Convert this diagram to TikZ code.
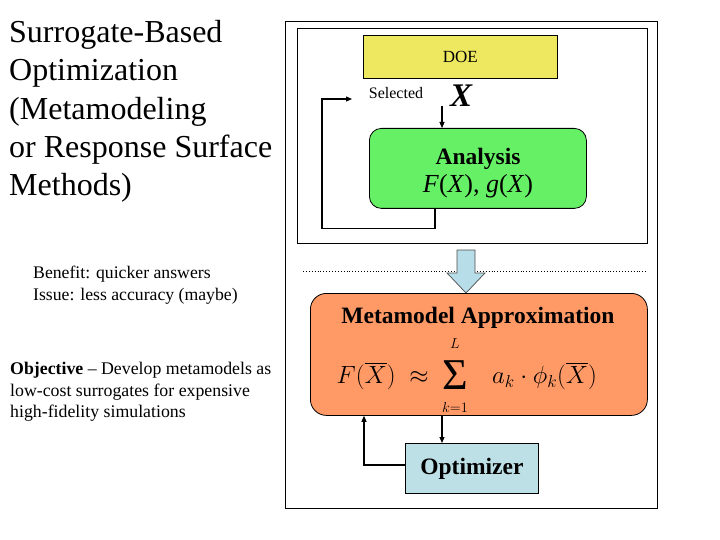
\documentclass[tikz,border=0pt]{standalone}
\usepackage{amsmath}
\usepackage{fontspec}
\setmainfont{Liberation Serif}
\usetikzlibrary{arrows.meta,calc}
\definecolor{doeyellow}{RGB}{238,232,96}
\definecolor{anagreen}{RGB}{102,240,102}
\definecolor{metaorange}{RGB}{255,153,102}
\definecolor{optblue}{RGB}{189,224,230}
\definecolor{flowblue}{RGB}{183,221,232}
\tikzset{
  frame/.style={draw, line width=1.1pt, anchor=north west, inner sep=0pt},
  box/.style={draw, line width=0.8pt, anchor=north west, inner sep=0pt},
  arr/.style={line width=1.1pt, -{Triangle[length=6pt,width=5pt]}},
  txt/.style={inner sep=0pt, align=left, anchor=north west},
  eq/.style={inner sep=0pt, font=\fontsize{26}{28}\selectfont},
  lim/.style={inner sep=0pt, font=\fontsize{14}{15}\selectfont}
}
\begin{document}
\begin{tikzpicture}[x=1pt,y=-1pt]
\useasboundingbox (0,0) rectangle (720,540);
% frames
\node[frame, minimum width=372pt, minimum height=487pt] (outer) at (285,21) {};
\node[frame, line width=0.9pt, minimum width=350pt, minimum height=215pt] (inner) at (297,28) {};
% DOE
\node[box, fill=doeyellow, minimum width=194pt, minimum height=43pt] (doe) at (363,35) {};
\node[font=\fontsize{17}{18}\selectfont] (doetext) at (doe.center) {DOE};
\node[font=\fontsize{16}{18}\selectfont] (selected) at (396,93) {Selected};
\node[font=\fontsize{33}{33}\selectfont\itshape\bfseries] (xsel) at (461,96) {X};
% Analysis
\node[box, fill=anagreen, rounded corners=12pt, minimum width=217pt, minimum height=80pt] (ana) at (369,128) {};
\node[font=\fontsize{23.5}{24}\selectfont\bfseries] (anatitle) at (478,159) {Analysis};
\node[font=\fontsize{26}{26}\selectfont] (anaf) at (478,186) {\textit{F}(\textit{X}), \textit{g}(\textit{X})};
\coordinate (xs) at (442,106);
\draw[arr] (xs) -- (xs |- ana.north);
\coordinate (loopend) at (352,99);
\draw[arr] ($(ana.south west)+(66,0)$) -- ++(0,20) -| (322,99) -- (loopend);
% dotted separator and block arrow
\coordinate (dotl) at (303,271);
\coordinate (dotr) at (647,271);
\draw[dotted, line width=0.9pt] (dotl) -- (dotr);
\draw[fill=flowblue, line width=0.7pt, draw=black!70] (457,250) -- (475,250) -- (475,273) -- (485,273) -- (466,293) -- (447,273) -- (457,273) -- cycle;
% Metamodel
\node[box, fill=metaorange, rounded corners=16pt, minimum width=337pt, minimum height=122pt] (meta) at (310,293) {};
\node[font=\fontsize{23.5}{24}\selectfont\bfseries, inner sep=0pt] (metatitle) at (478,318) {Metamodel Approximation};
\node[eq, anchor=east] (lhs) at (429,376) {$F(\overline{X})\;\approx$};
\node[inner sep=0pt, font=\fontsize{44}{44}\selectfont] (sigma) at (455,375) {Σ};
\node[lim] (sumtop) at (455,344) {$L$};
\node[lim] (sumbot) at (455,407) {$k{=}1$};
\node[eq, anchor=west] (rhs) at (492,376) {$a_k\cdot\phi_k(\overline{X})$};
% Optimizer
\node[box, fill=optblue, minimum width=133pt, minimum height=50pt] (opt) at (405,443) {};
\node[font=\fontsize{23.5}{24}\selectfont\bfseries] (opttext) at (opt.center) {Optimizer};
\draw[arr] (meta.south -| xs) -- (opt.north -| xs);
\draw[arr] (opt.west |- 0,465) -| ($(meta.south west)+(54,0)$);
% left texts
\node[txt, font=\fontsize{32}{38.3}\selectfont] (title) at (9,20) {Surrogate-Based\\Optimization\\(Metamodeling\\or Response Surface\\Methods)};
\node[txt, font=\fontsize{17.7}{22}\selectfont] (benefit) at (33,266) {Benefit: quicker answers\\Issue: less accuracy (maybe)};
\node[txt, font=\fontsize{17.8}{21.5}\selectfont] (objective) at (10,362) {\textbf{Objective} -- Develop metamodels as\\low-cost surrogates for expensive\\high-fidelity simulations};
\end{tikzpicture}
\end{document}
